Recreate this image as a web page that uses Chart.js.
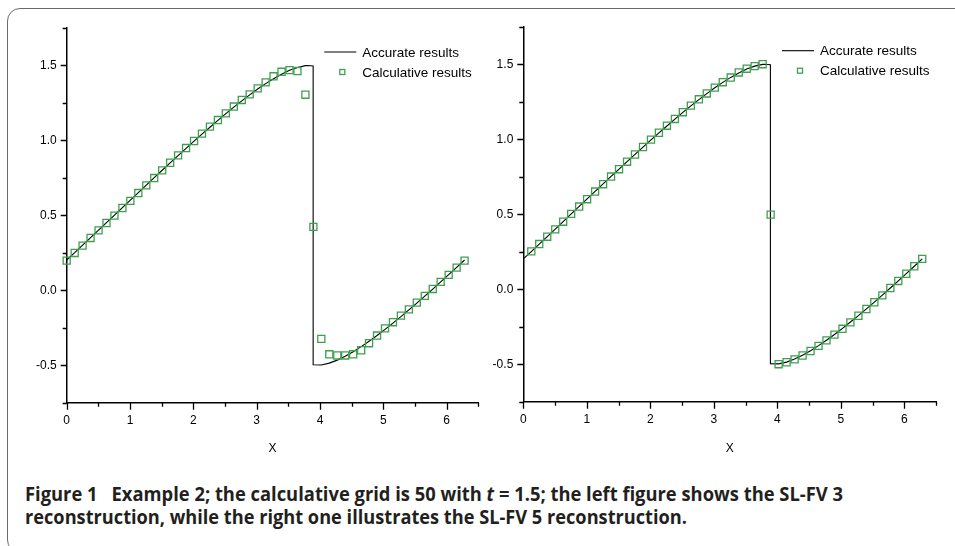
<!DOCTYPE html>
<html>
<head>
<meta charset="utf-8">
<script src="https://cdn.jsdelivr.net/npm/chart.js@4.4.0/dist/chart.umd.min.js"></script>
<style>
  body { margin: 0; background: #fff; width: 955px; height: 546px; overflow: hidden; position: relative; }
  #frame { position: absolute; left: 7px; top: 8px; width: 1000px; height: 545px; border: 1.5px solid #6b6b6b; border-radius: 13px; box-sizing: border-box; }
  #leftWrap { position: absolute; left: 0; top: 0; width: 490px; height: 470px; }
  #rightWrap { position: absolute; left: 480px; top: 0; width: 475px; height: 470px; }
  .cap { position: absolute; left: 25px; font-family: 'Open Sans', 'Noto Sans', sans-serif; font-weight: 700; font-size: 20px; line-height: 20px; white-space: nowrap; transform-origin: 0 0; color: #231f20; }
</style>
</head>
<body>
<div id="frame"></div>
<div id="leftWrap"><canvas id="leftChart"></canvas></div>
<div id="rightWrap"><canvas id="rightChart"></canvas></div>
<div class="cap" id="cap1" style="top:484px">Figure 1&ensp; Example 2; the calculative grid is 50 with <i>t</i> = 1.5; the left figure shows the SL-FV 3</div>
<div class="cap" id="cap2" style="top:507px">reconstruction, while the right one illustrates the SL-FV 5 reconstruction.</div>
<script>
// grid nodes (x) shared by both panels
const gridX = [0, 0.126, 0.251, 0.377, 0.503, 0.628, 0.754, 0.880, 1.005, 1.131, 1.257,
  1.382, 1.508, 1.634, 1.759, 1.885, 2.011, 2.136, 2.262, 2.388, 2.513,
  2.639, 2.765, 2.890, 3.016, 3.142, 3.267, 3.393, 3.519, 3.644, 3.770,
  3.896, 4.021, 4.147, 4.273, 4.398, 4.524, 4.650, 4.775, 4.901, 5.027,
  5.152, 5.278, 5.404, 5.529, 5.655, 5.781, 5.906, 6.032, 6.158, 6.283];

// SL-FV 3 (left), one value per grid node
const leftCalcY = [0.198, 0.249, 0.298, 0.349, 0.400, 0.449, 0.498, 0.549, 0.597, 0.649, 0.700,
  0.749, 0.800, 0.851, 0.900, 0.949, 0.996, 1.045, 1.092, 1.136, 1.180,
  1.226, 1.270, 1.307, 1.347, 1.387, 1.428, 1.458, 1.469, 1.463, 1.305,
  0.423, -0.324, -0.427, -0.435, -0.435, -0.427, -0.400, -0.353, -0.302, -0.254,
  -0.213, -0.169, -0.127, -0.082, -0.037, 0.009, 0.056, 0.103, 0.151, 0.198];

// SL-FV 5 (right), grid nodes 1..50
const rightCalcX = gridX.slice(1);
const rightCalcY = [0.252, 0.301, 0.350, 0.399, 0.450, 0.502, 0.551, 0.600, 0.651, 0.700,
  0.751, 0.800, 0.850, 0.898, 0.948, 0.997, 1.043, 1.090, 1.135, 1.180,
  1.224, 1.266, 1.305, 1.344, 1.380, 1.411, 1.445, 1.470, 1.487, 1.500,
  0.497, -0.500, -0.487, -0.468, -0.442, -0.412, -0.378, -0.341, -0.303, -0.264,
  -0.221, -0.177, -0.132, -0.087, -0.041, 0.008, 0.055, 0.103, 0.153, 0.202];

// accurate solution (with the shock near x = 3.89)
const exactX = [0, 0.126, 0.251, 0.377, 0.503, 0.628, 0.754, 0.880, 1.005, 1.131, 1.257,
  1.382, 1.508, 1.634, 1.759, 1.885, 2.011, 2.136, 2.262, 2.388, 2.513,
  2.639, 2.765, 2.890, 3.016, 3.142, 3.267, 3.393, 3.519, 3.644, 3.770,
  3.800, 3.892, 3.892, 4.021, 4.147, 4.273, 4.398, 4.524, 4.650, 4.775,
  4.901, 5.027, 5.152, 5.278, 5.404, 5.529, 5.655, 5.781, 5.906, 6.032, 6.158, 6.283];
const exactY = [0.202, 0.251, 0.301, 0.351, 0.401, 0.451, 0.502, 0.552, 0.602, 0.652, 0.702,
  0.752, 0.801, 0.850, 0.899, 0.947, 0.995, 1.042, 1.088, 1.134, 1.179,
  1.222, 1.264, 1.304, 1.343, 1.379, 1.412, 1.442, 1.468, 1.487, 1.499,
  1.500, 1.497, -0.497, -0.498, -0.486, -0.466, -0.440, -0.410, -0.376, -0.340,
  -0.302, -0.261, -0.219, -0.176, -0.131, -0.086, -0.039, 0.008, 0.056, 0.104, 0.153, 0.202];

const legendLabels = ["Accurate results", "Calculative results"];
const axisTitle = "X";
const green = "#3f9f50";

Chart.defaults.font.family = "'Liberation Sans', Arial, sans-serif";
Chart.defaults.color = "#000";

function toPoints(xs, ys) {
  return xs.map((x, i) => ({ x: x, y: ys[i] }));
}

// major/minor tick marks drawn from the scales' own ticks
const tickMarks = {
  id: "tickMarks",
  afterDraw(chart) {
    const ctx = chart.ctx;
    const xs = chart.scales.x, ys = chart.scales.y;
    ctx.save();
    ctx.strokeStyle = "#000";
    ctx.lineWidth = 1.3;
    ctx.beginPath();
    xs.ticks.forEach((t) => {
      const px = Math.round(xs.getPixelForValue(t.value)) + 0.5;
      const len = Number.isInteger(t.value) ? 7 : 4;
      ctx.moveTo(px, xs.top);
      ctx.lineTo(px, xs.top + len);
    });
    ys.ticks.forEach((t) => {
      const py = Math.round(ys.getPixelForValue(t.value)) + 0.5;
      const major = Math.abs(t.value * 2 - Math.round(t.value * 2)) < 1e-6;
      const len = major ? 6 : 4;
      ctx.moveTo(ys.right - len, py);
      ctx.lineTo(ys.right, py);
    });
    ctx.stroke();
    ctx.restore();
  }
};

// legend in the upper right of each panel
const legendBox = {
  id: "legendBox",
  afterDraw(chart) {
    const a = chart.chartArea, ctx = chart.ctx;
    const x0 = a.right - 154, y0 = a.top + 24;
    ctx.save();
    ctx.strokeStyle = "#000";
    ctx.lineWidth = 1.1;
    ctx.beginPath();
    ctx.moveTo(x0, y0);
    ctx.lineTo(x0 + 32, y0);
    ctx.stroke();
    ctx.strokeStyle = green;
    ctx.lineWidth = 1.3;
    ctx.strokeRect(x0 + 18 - 2.5, y0 + 20 - 2.5, 5, 5);
    ctx.fillStyle = "#000";
    ctx.font = "13.5px 'Liberation Sans', Arial, sans-serif";
    ctx.textBaseline = "middle";
    ctx.textAlign = "left";
    ctx.fillText(legendLabels[0], a.right - 116, y0 + 1);
    ctx.fillText(legendLabels[1], a.right - 116, y0 + 21);
    ctx.restore();
  }
};

function makeChart(canvasId, calcX, calcY, pad, yWidth, xHeight) {
  const ctx = document.getElementById(canvasId).getContext("2d");
  return new Chart(ctx, {
    type: "scatter",
    data: {
      datasets: [
        {
          label: legendLabels[1],
          data: toPoints(calcX, calcY),
          showLine: false,
          pointStyle: "rect",
          pointRadius: 5,
          pointHoverRadius: 5,
          pointBorderColor: green,
          pointBackgroundColor: "rgba(255,255,255,0)",
          pointBorderWidth: 1.3,
          clip: false,
          order: 0
        },
        {
          label: legendLabels[0],
          data: toPoints(exactX, exactY),
          showLine: true,
          borderColor: "#000",
          borderWidth: 1.1,
          pointRadius: 0,
          tension: 0,
          clip: false,
          order: 1
        }
      ]
    },
    options: {
      responsive: true,
      maintainAspectRatio: false,
      animation: false,
      layout: { padding: pad },
      plugins: { legend: { display: false }, tooltip: { enabled: false } },
      scales: {
        x: {
          type: "linear",
          min: 0,
          max: 6.5,
          ticks: {
            stepSize: 0.5,
            autoSkip: false,
            maxRotation: 0,
            padding: 4,
            font: { size: 12 },
            callback: (v) => (Number.isInteger(v) ? String(v) : "")
          },
          grid: { display: true, drawOnChartArea: false, color: "rgba(0,0,0,0)", tickLength: 7 },
          border: { display: true, color: "#000", width: 1.5 },
          title: { display: true, text: axisTitle, font: { size: 12 }, padding: { top: 0, bottom: 14 } },
          afterFit: (s) => { s.height = xHeight; }
        },
        y: {
          type: "linear",
          min: -0.75,
          max: 1.75,
          ticks: {
            stepSize: 0.25,
            autoSkip: false,
            padding: 4,
            font: { size: 12 },
            callback: (v) => (Math.abs(v * 2 - Math.round(v * 2)) < 1e-6 ? v.toFixed(1) : "")
          },
          grid: { display: true, drawOnChartArea: false, color: "rgba(0,0,0,0)", tickLength: 6 },
          border: { display: true, color: "#000", width: 1.5 },
          afterFit: (s) => { s.width = yWidth; }
        }
      }
    },
    plugins: [tickMarks, legendBox]
  });
}

makeChart("leftChart", gridX, leftCalcY, { top: 28, right: 11.7, left: 0, bottom: 0 }, 66.7, 67.3);
makeChart("rightChart", rightCalcX, rightCalcY, { top: 26.7, right: 19, left: 0, bottom: 0 }, 43.3, 68.3);

// squeeze caption lines to the reference line widths
function fitCaption() {
  [["cap1", 818], ["cap2", 662]].forEach(([id, w]) => {
    const el = document.getElementById(id);
    el.style.transform = "none";
    const actual = el.getBoundingClientRect().width;
    el.style.transform = "scaleX(" + (w / actual) + ")";
  });
}
fitCaption();
if (document.fonts) document.fonts.ready.then(fitCaption);
</script>
</body>
</html>
